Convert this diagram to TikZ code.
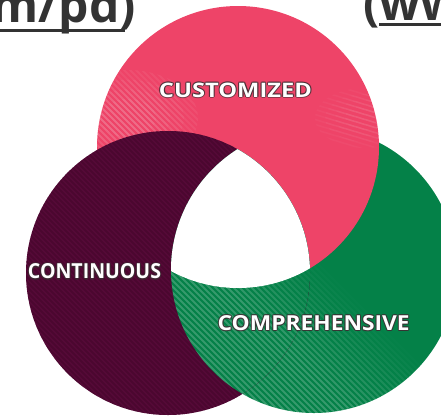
\documentclass[tikz,border=0pt]{standalone}
\usepackage{fontspec}
\setmainfont{Open Sans}
\usetikzlibrary{calc}
\definecolor{pinkc}{RGB}{238,68,104}
\definecolor{purpc}{RGB}{86,10,56}
\definecolor{purpd}{RGB}{62,4,38}
\definecolor{greenc}{RGB}{4,129,72}
\definecolor{txtgray}{RGB}{51,51,51}
\definecolor{haloc}{RGB}{60,45,50}
\newcommand\hlabel[4]{%
  \foreach \a in {0,45,...,315}
    \node[lbl,text=haloc,opacity=0.55,shift={(\a:1.1pt)}] (#1-h\a) at (#2,#3) {#4};
  \node[lbl,text=white] (#1) at (#2,#3) {#4};}
\begin{document}
\begin{tikzpicture}[x=1pt,y=-1pt,
  lbl/.style={inner sep=0pt,font=\bfseries},
  toptxt/.style={inner sep=0pt,text=txtgray,font=\fontsize{48}{48}\selectfont\bfseries},
  stripe/.style={line width=2pt}]
\useasboundingbox (0,0) rectangle (441,416);
\coordinate (P) at (238,147);
\coordinate (U) at (168,273);
\coordinate (G) at (314,270);
% green circle
\fill[greenc] (G) circle[radius=143pt];
\newcommand\greenstripes{%
  \begin{scope}
    \clip (G) circle[radius=143pt];
    \foreach \c in {-330,-324,...,60}{
      \pgfmathsetmacro\op{\c<-60 ? 0.2 : 0.2*(60-\c)/120}
      \draw[stripe,white,opacity=\op] (\c-60,-60) -- ++(520,520);
    }
  \end{scope}}
\greenstripes
% pink circle
\fill[pinkc] (P) circle[radius=141pt];
\foreach \s in {1.0,0.8,0.6,0.4}{
\begin{scope}
  \clip (P) circle[radius=141pt];
  \clip (128,118) ellipse[x radius=\s*70pt, y radius=\s*48pt];
  \foreach \c in {-150,-144,...,150}
    \draw[stripe,white,opacity=0.06] (\c-60,-60) -- ++(320,320);
\end{scope}
\begin{scope}
  \clip (P) circle[radius=141pt];
  \clip (365,118) ellipse[x radius=\s*50pt, y radius=\s*30pt];
  \foreach \c in {60,65,...,160}
    \draw[line width=1.6pt,white,opacity=0.035] (250,\c) -- ++(200,60);
\end{scope}
}
% purple circle
\fill[purpc] (U) circle[radius=142pt];
\begin{scope}
  \clip (U) circle[radius=142pt];
  \foreach \c in {-420,-415,...,200}
    \draw[stripe,purpd,opacity=0.45] (\c-60,-60) -- ++(560,560);
\end{scope}
% green over purple
\begin{scope}
  \clip (U) circle[radius=142pt];
  \fill[greenc] (G) circle[radius=143pt];
  \greenstripes
\end{scope}
% white centre
\begin{scope}
  \clip (U) circle[radius=142pt];
  \clip (G) circle[radius=143pt];
  \fill[white] (P) circle[radius=141pt];
\end{scope}
% labels
\hlabel{cust}{235.5}{90}{\resizebox{153pt}{14.5pt}{CUSTOMIZED}}
\hlabel{cont}{94.5}{271.5}{\resizebox{133pt}{15pt}{CONTINUOUS}}
\hlabel{comp}{313.7}{323.3}{\resizebox{192pt}{15pt}{COMPREHENSIVE}}
% top texts
\node[toptxt,anchor=base east] (tl) at (136,22) {m/pd)};
\fill[txtgray] (-2,29) rectangle (125,32);
\node[toptxt,anchor=base west] (tr) at (363,20) {(ww};
\fill[txtgray] (379,22.5) rectangle (445,25.5);
\end{tikzpicture}
\end{document}
